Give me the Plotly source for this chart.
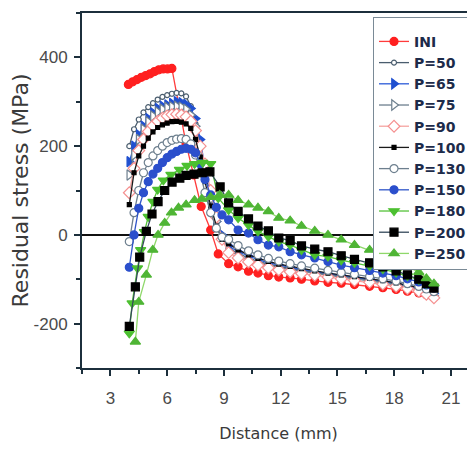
import plotly.graph_objects as go

# ---------------- data ----------------
tail_x = [9.25, 9.75, 10.3, 10.8, 11.35, 11.9, 12.5, 13.1, 13.8, 14.5, 15.2, 15.9,
          16.7, 17.4, 18.1, 18.7, 19.3, 19.7, 20.1]
head_x = [4.0, 4.25, 4.5, 4.75, 5.0, 5.25, 5.5, 5.75, 6.0, 6.25, 6.5, 6.75, 7.0,
          7.25, 7.5, 7.75, 8.0, 8.3, 8.6, 8.9]

ini_x = [3.95, 4.18, 4.41, 4.64, 4.87, 5.1, 5.33, 5.56, 5.79, 6.02, 6.25,
         7.0, 7.4, 7.8, 8.3, 8.7]
ini_y = [339, 345, 350, 355, 359, 363, 368, 372, 374, 374, 375,
         205, 135, 64, 11, -43]
ini_tail = [-65, -72, -82, -86, -92, -95, -97, -100, -104, -107, -109, -112,
            -116, -119, -123, -127, -131, -135, -140]

p50_y = [200, 238, 260, 276, 288, 297, 305, 311, 315, 318, 320, 319, 312, 290, 250, 195, 135, 75, 25, -5]
p50_tail = [-30, -42, -52, -60, -66, -71, -76, -80, -85, -89, -93, -97, -101, -106, -111, -116, -122, -128, -135]

p65_y = [165, 200, 225, 245, 262, 275, 285, 290, 293, 296, 300, 298, 294, 285, 262, 215, 150, 85, 30, 0]
p65_tail = [-25, -38, -48, -56, -63, -68, -73, -78, -83, -87, -91, -95, -99, -104, -109, -114, -120, -126, -132]

p75_y = [135, 180, 215, 238, 255, 268, 277, 283, 287, 289, 290, 288, 283, 270, 245, 200, 140, 80, 30, -5]
p75_tail = [-35, -46, -56, -63, -69, -74, -78, -82, -87, -91, -95, -99, -103, -108, -113, -118, -124, -130, -137]

p90_y = [95, 150, 190, 215, 233, 246, 256, 263, 268, 271, 272, 270, 266, 256, 235, 200, 160, 100, 40, -10]
p90_tail = [-40, -52, -61, -68, -74, -79, -83, -87, -91, -95, -99, -103, -107, -111, -116, -121, -127, -134, -142]

p100_y = [68, 140, 178, 200, 218, 232, 242, 248, 252, 255, 256, 254, 250, 240, 215, 175, 120, 65, 20, -10]
p100_tail = [-20, -34, -45, -53, -60, -66, -71, -76, -81, -86, -90, -94, -98, -103, -108, -113, -119, -125, -131]

p130_y = [-15, 50, 100, 140, 163, 178, 190, 200, 208, 213, 216, 217, 215, 205, 180, 140, 95, 50, 15, -5]
p130_tail = [-10, -24, -36, -45, -53, -59, -65, -70, -75, -80, -85, -89, -94, -99, -104, -110, -116, -122, -128]

p150_y = [-73, 0, 60, 95, 120, 137, 150, 163, 174, 182, 188, 193, 195, 193, 185, 160, 125, 90, 62, 45]
p150_tail = [34, 11, 4, -11, -23, -27, -38, -45, -52, -60, -68, -74, -80, -86, -92, -99, -106, -113, -120]

p180_x = [4.0, 4.15, 4.43, 4.6, 4.8, 5.0, 5.25, 5.5, 5.8, 6.2, 6.65, 7.05, 7.45, 7.88, 8.3, 8.7]
p180_y = [-222, -154, -75, -34, 7, 41, 75, 102, 123, 136, 147, 156, 160, 163, 160, 83]
p180_tail = [56, 38, 22, 8, -4, -15, -23, -34, -45, -49, -57, -63, -70, -77, -85, -93, -101, -110, -118]

p200_x = [4.0, 4.32, 4.55, 4.9, 5.2, 5.52, 5.87, 6.26, 6.67, 7.0, 7.42, 7.85, 8.26, 8.8]
p200_y = [-206, -117, -50, 8, 47, 75, 100, 119, 128, 134, 137, 140, 142, 108]
p200_tail = [72, 53, 36, 20, 9, -7, -13, -25, -32, -38, -47, -55, -63, -72, -81, -90, -100, -110, -120]

p250_x = [4.32, 4.5, 4.9, 5.24, 5.52, 5.87, 6.23, 6.6, 7.0, 7.45, 7.83, 8.3, 8.78]
p250_y = [-241, -151, -90, -34, 0, 27, 50, 61, 68, 78, 81, 85, 90]
p250_tail = [90, 78, 68, 61, 53, 38, 32, 20, 9, 0, -11, -23, -34, -46, -58, -71, -84, -98, -110]

x_ticks = [3, 6, 9, 12, 15, 18, 21]
y_ticks = [-200, 0, 200, 400]

# ---------------- figure ----------------
series = [
    # name, x, y, line color, marker symbol, marker fill, marker edge, size
    ("INI", ini_x + tail_x, ini_y + ini_tail, "#ff3b3b", "circle", "#ff2020", "#ff2020", 8),
    ("P=50", head_x + tail_x, p50_y + p50_tail, "#4a5d6e", "circle", "white", "#4a5d6e", 5),
    ("P=65", head_x + tail_x, p65_y + p65_tail, "#2a5ad8", "triangle-right", "#2050d0", "#2050d0", 9),
    ("P=75", head_x + tail_x, p75_y + p75_tail, "#6d7f8e", "triangle-right", "white", "#6d7f8e", 9),
    ("P=90", head_x + tail_x, p90_y + p90_tail, "#f5a3a0", "diamond", "white", "#f59090", 9),
    ("P=100", head_x + tail_x, p100_y + p100_tail, "#1a1a1a", "square", "#000000", "#000000", 4),
    ("P=130", head_x + tail_x, p130_y + p130_tail, "#6d7f8e", "circle", "white", "#6d7f8e", 8),
    ("P=150", head_x + tail_x, p150_y + p150_tail, "#2f55c8", "circle", "#2b4fcc", "#2b4fcc", 8),
    ("P=180", p180_x + tail_x, p180_y + p180_tail, "#55c23a", "triangle-down", "#4cc030", "#4cc030", 9),
    ("P=200", p200_x + tail_x, p200_y + p200_tail, "#34495a", "square", "#000000", "#000000", 8),
    ("P=250", p250_x + tail_x, p250_y + p250_tail, "#8fd86a", "triangle-up", "#4fb535", "#4fb535", 9),
]

fig = go.Figure()
for name, xs, ys, lc, sym, fill, edge, sz in series:
    fig.add_trace(go.Scatter(
        x=xs, y=ys, name=name, mode="lines+markers",
        line=dict(color=lc, width=1.3),
        marker=dict(symbol=sym, size=sz, color=fill, line=dict(color=edge, width=1.2)),
    ))

axis_col = "#1c2f3c"
tick_font = dict(family="Liberation Sans, Arial, sans-serif", size=17, color="#4a4a4a")
xtitle_font = dict(family="DejaVu Sans, sans-serif", size=16, color="#3a3a3a")
ytitle_font = dict(family="DejaVu Sans, sans-serif", size=22, color="#3a3a3a")

fig.update_layout(
    width=475, height=451,
    margin=dict(l=74, r=8, t=5, b=91, autoexpand=False),
    paper_bgcolor="white", plot_bgcolor="white",
    showlegend=True,
    legend=dict(
        x=0.7405, y=0.9887, xanchor="left", yanchor="top",
        bgcolor="white", bordercolor="#7a8a96", borderwidth=1,
        font=dict(family="DejaVu Sans, sans-serif", size=14, color="#1d2b4a", weight="bold"),
        itemwidth=30, tracegroupgap=0,
        title=dict(text=" ", font=dict(size=6)),
    ),
    xaxis=dict(
        range=[1.5, 22.27], tickvals=x_ticks, ticktext=[str(v) for v in x_ticks],
        showline=True, linecolor=axis_col, linewidth=2, mirror=True,
        ticks="outside", ticklen=6, tickwidth=1.5, tickcolor=axis_col,
        minor=dict(dtick=1.5, tick0=0, ticks="outside", ticklen=4, tickwidth=1.5, tickcolor=axis_col),
        showgrid=False, zeroline=False,
        tickfont=tick_font, ticklabelstandoff=8,
        title=dict(text="Distance (mm)", font=xtitle_font, standoff=20),
        automargin=False,
    ),
    yaxis=dict(
        range=[-300, 500], tickvals=y_ticks, ticktext=[str(v) for v in y_ticks],
        showline=True, linecolor=axis_col, linewidth=2,
        ticks="outside", ticklen=6, tickwidth=1.5, tickcolor=axis_col,
        minor=dict(dtick=100, tick0=0, ticks="outside", ticklen=4, tickwidth=1.5, tickcolor=axis_col),
        showgrid=False, zeroline=True, zerolinecolor="#111111", zerolinewidth=1.6,
        tickfont=tick_font, ticklabelstandoff=3,
        title=dict(text="Residual stress (MPa)", font=ytitle_font, standoff=2),
        automargin=False,
    ),
)

fig.write_html("out.html")
